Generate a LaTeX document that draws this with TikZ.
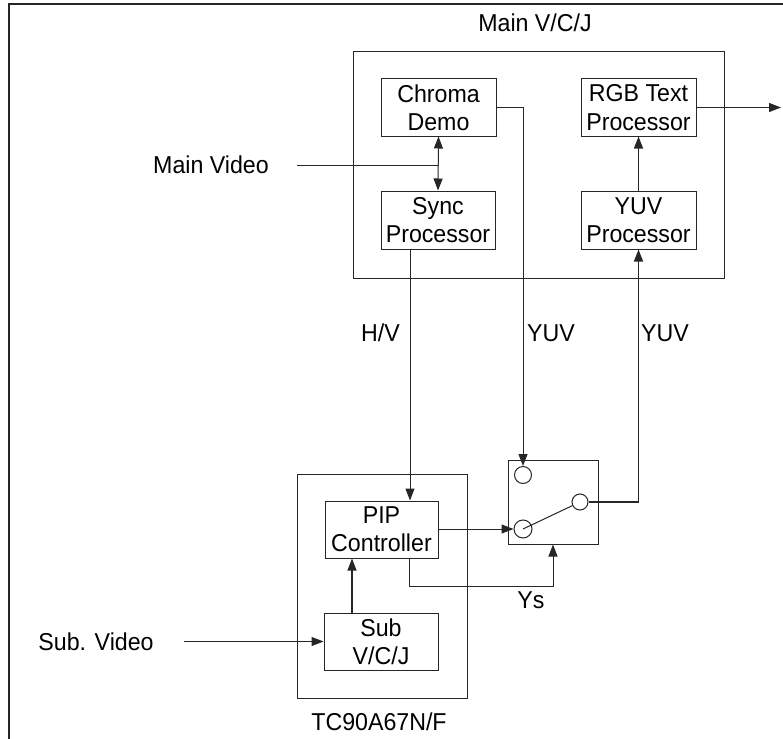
\documentclass[tikz,border=0pt]{standalone}
\usepackage{fontspec}
\setmainfont{Liberation Sans}[FakeStretch=0.95]
\usetikzlibrary{arrows.meta,calc}
\begin{document}
\begin{tikzpicture}[x=1bp,y=-1bp,
  ln/.style={draw=black!85, line width=1bp},
  arr/.style={ln, -{Triangle[length=12bp,width=9bp]}},
  darr/.style={ln, {Triangle[length=12bp,width=9bp]}-{Triangle[length=12bp,width=9bp]}},
  blk/.style={ln, inner sep=0pt, align=center, font=\fontsize{24.5}{28.5}\selectfont},
  lbl/.style={inner sep=0pt, font=\fontsize{24.5}{28.5}\selectfont},
  ctc/.style={ln, circle, inner sep=0pt}]
\useasboundingbox (0,0) rectangle (783,739);
% outer frame (top and left only)
\draw[ln, line width=1.4bp] (9,739) -- (9,4) -- (783,4);
% main V/C/J
\node[ln, minimum width=371bp, minimum height=226bp, inner sep=0pt] (mvcj) at (538.5,165) {};
\node[lbl] (lmain) at (535,23) {Main V/C/J};
\node[blk, minimum width=115bp, minimum height=57bp] (chroma) at (438.5,107.5) {Chroma\\Demo};
\node[blk, minimum width=114bp, minimum height=58bp] (sync) at (438,220) {Sync\\Processor};
\node[blk, minimum width=115bp, minimum height=57bp] (rgb) at (638.5,107.5) {RGB Text\\Processor};
\node[blk, minimum width=115bp, minimum height=58bp] (yuv) at (638.5,220) {YUV\\Processor};
% TC90A67N/F
\node[ln, minimum width=170bp, minimum height=224bp, inner sep=0pt] (tcbox) at (382,586) {};
\node[lbl] (ltc) at (379,722) {TC90A67N/F};
\node[blk, minimum width=113bp, minimum height=57bp] (pip) at (381.5,529.5) {PIP\\Controller};
\node[blk, minimum width=114bp, minimum height=57bp] (sub) at (381,641.5) {Sub\\V/C/J};
% switch
\node[ln, minimum width=90bp, minimum height=84bp, inner sep=0pt] (sw) at (553,502) {};
\node[ctc, minimum size=17bp] (tc) at (523,475) {};
\node[ctc, minimum size=18bp] (lc) at (523,529) {};
\node[ctc, minimum size=16bp] (rc) at (580,502) {};
\draw[ln] (lc.center) -- (rc);
% labels
\node[lbl] (lmv) at (211,165) {Main Video};
\node[lbl] (lsv) at (96,641.5) {Sub. Video};
\node[lbl, anchor=east] (lhv) at (400,333) {H/V};
\node[lbl] (lyuv1) at (551,333) {YUV};
\node[lbl] (lyuv2) at (665,333) {YUV};
\node[lbl] (lys) at (531,600) {Ys};
% coordinates
\coordinate (mvs) at (297,165);
\coordinate (hvx) at (410,0);
\coordinate (ysc) at (409,586);
\coordinate (sbx) at (352,0);
\coordinate (svs) at (184,641.5);
\coordinate (out) at (781,107.5);
% connectors
\draw[ln] (mvs) -- (mvs -| chroma.south);
\draw[darr] (chroma.south) -- (sync.north);
\draw[arr] (chroma.east) -| (tc.north);
\draw[arr] (hvx |- sync.south) -- (hvx |- pip.north);
\draw[arr] (rgb.east) -- (out);
\draw[arr, line width=1.4bp] (yuv.north) -- (rgb.south);
\draw[arr, line width=1.4bp] (rc.east) -| (yuv.south);
\draw[arr] (pip.east |- lc) -- (lc.west);
\draw[arr] (ysc |- pip.south) -- (ysc) -| (sw.south);
\draw[arr, line width=1.2bp] (sbx |- sub.north) -- (sbx |- pip.south);
\draw[arr] (svs) -- (sub.west);
\end{tikzpicture}
\end{document}
